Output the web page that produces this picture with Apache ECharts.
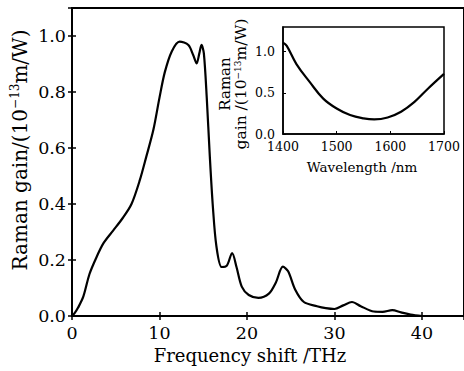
<!DOCTYPE html>
<html><head><meta charset="utf-8">
<script src="https://cdn.jsdelivr.net/npm/echarts@6/dist/echarts.min.js"></script>
<style>html,body{margin:0;padding:0;background:#fff}#c{width:464px;height:371px}</style>
</head><body><div id="c"></div>
<script>
// Main curve: frequency shift (THz) vs Raman gain (1e-13 m/W)
var freq = [0, 0.3, 0.7, 1.3, 2.0, 2.8, 3.6, 4.7, 5.8, 6.8, 7.75, 8.5, 9.3, 10.0, 10.6, 11.4, 12.3, 13.3, 13.85, 14.25, 14.55, 14.8, 15.07, 15.4, 15.75, 16.1, 16.5, 17.1, 17.7, 18.3, 18.8, 19.4, 20.2, 21.3, 22.5, 23.3, 24.1, 24.7, 25.5, 26.5, 28.0, 29.0, 30.0, 31.0, 32.0, 33.0, 34.5, 35.5, 36.6, 37.6, 38.7, 40.0];
var gain = [0.0, 0.01, 0.03, 0.07, 0.15, 0.21, 0.26, 0.305, 0.35, 0.40, 0.485, 0.57, 0.665, 0.78, 0.87, 0.945, 0.98, 0.968, 0.932, 0.902, 0.938, 0.968, 0.938, 0.78, 0.57, 0.39, 0.25, 0.175, 0.18, 0.225, 0.175, 0.105, 0.075, 0.065, 0.08, 0.12, 0.176, 0.16, 0.095, 0.05, 0.035, 0.028, 0.025, 0.038, 0.05, 0.035, 0.016, 0.015, 0.021, 0.013, 0.005, 0.0];
// Inset: wavelength (nm) vs Raman gain
var wavelength = [1400, 1407, 1425, 1450, 1475, 1500, 1525, 1550, 1570, 1595, 1620, 1645, 1670, 1700];
var insetGain = [1.11, 1.07, 0.85, 0.63, 0.43, 0.31, 0.23, 0.19, 0.177, 0.20, 0.27, 0.39, 0.55, 0.73];
var freqTicks = [0, 10, 20, 30, 40];
var gainTicks = ['0.0', '0.2', '0.4', '0.6', '0.8', '1.0'];
var wlTicks = [1400, 1500, 1600, 1700];
var insetGainTicks = ['0.0', '0.5', '1.0'];

var FONT = '"DejaVu Serif", "Liberation Serif", serif';
function pairs(a, b) { return a.map(function (v, i) { return [v, b[i]]; }); }
function fmt1(v) { return v.toFixed(1); }

var chart = echarts.init(document.getElementById('c'), null, { renderer: 'svg' });
var hidden = { show: false };
chart.setOption({
  backgroundColor: '#fff',
  animation: false,
  grid: [
    { left: 72, right: 0, top: 8, bottom: 55, show: true, borderColor: '#000', borderWidth: 2, backgroundColor: 'transparent' },
    { left: 283, top: 27, width: 161, height: 107, show: true, borderColor: '#000', borderWidth: 1.5, backgroundColor: '#fff' }
  ],
  xAxis: [
    { gridIndex: 0, type: 'value', min: 0, max: 44.8, interval: 10,
      axisLine: { lineStyle: { color: '#000', width: 2 } },
      axisTick: { inside: true, length: 4, lineStyle: { color: '#000', width: 1.5 } },
      axisLabel: { color: '#000', fontFamily: FONT, fontSize: 17.5, margin: 8, showMaxLabel: false,
        formatter: function (v) { return freqTicks.indexOf(v) >= 0 ? String(v) : ''; } },
      splitLine: hidden },
    { gridIndex: 0, type: 'value', position: 'top', min: 0, max: 44.8, interval: 10,
      axisLine: hidden, axisLabel: hidden, splitLine: hidden,
      axisTick: { inside: true, length: 4, lineStyle: { color: '#000', width: 1.5 } } },
    { gridIndex: 1, type: 'value', min: 1400, max: 1700, interval: 100,
      axisLine: { lineStyle: { color: '#000', width: 1.5 } },
      axisTick: { inside: true, length: 3, lineStyle: { color: '#000', width: 1 } },
      axisLabel: { color: '#000', fontFamily: FONT, fontSize: 12.5, margin: 7, lineHeight: 10,
        formatter: function (v) { return wlTicks.indexOf(v) >= 0 ? String(v) : ''; } },
      splitLine: hidden }
  ],
  yAxis: [
    { gridIndex: 0, type: 'value', min: 0, max: 1.1, interval: 0.2,
      axisLine: { show: true, lineStyle: { color: '#000', width: 2 } },
      axisTick: { show: true, inside: true, length: 4, lineStyle: { color: '#000', width: 1.5 } },
      axisLabel: { color: '#000', fontFamily: FONT, fontSize: 17.5, margin: 6, showMaxLabel: false,
        formatter: function (v) { var s = fmt1(v); return gainTicks.indexOf(s) >= 0 && v <= 1.0001 ? s : ''; } },
      splitLine: hidden },
    { gridIndex: 0, type: 'value', position: 'right', min: 0, max: 1.1, interval: 0.2,
      axisLine: hidden, axisLabel: hidden, splitLine: hidden,
      axisTick: { show: true, inside: true, length: 4, lineStyle: { color: '#000', width: 1.5 } } },
    { gridIndex: 1, type: 'value', min: 0, max: 1.3, interval: 0.5,
      axisLine: { show: true, lineStyle: { color: '#000', width: 1.5 } },
      axisTick: { show: true, inside: true, length: 3, lineStyle: { color: '#000', width: 1 } },
      axisLabel: { color: '#000', fontFamily: FONT, fontSize: 12.5, margin: 8, lineHeight: 8,
        showMaxLabel: false,
        formatter: function (v) { var s = fmt1(v); return insetGainTicks.indexOf(s) >= 0 && v <= 1.0001 ? s : ''; } },
      splitLine: hidden }
  ],
  series: [
    { type: 'line', xAxisIndex: 0, yAxisIndex: 0, data: pairs(freq, gain), smooth: 0.3,
      showSymbol: false, lineStyle: { color: '#000', width: 2.2 }, z: 5 },
    { type: 'line', xAxisIndex: 2, yAxisIndex: 2, data: pairs(wavelength, insetGain), smooth: 0.4,
      showSymbol: false, lineStyle: { color: '#000', width: 2.2 }, z: 5 }
  ],
  graphic: [
    { type: 'text', x: 250, y: 355, z: 10,
      style: { text: 'Frequency shift /THz', font: '18px ' + FONT, fill: '#000',
        textAlign: 'center', textVerticalAlign: 'middle', align: 'center', verticalAlign: 'middle' } },
    { type: 'text', x: 20, y: 150, rotation: Math.PI / 2, z: 10,
      style: { text: '{a|Raman gain/(10}{s|\u221213}{a|m/W)}', fill: '#000',
        textAlign: 'center', textVerticalAlign: 'middle', align: 'center', verticalAlign: 'middle',
        rich: { a: { fontFamily: FONT, fontSize: 20, lineHeight: 23, fill: '#000' },
                s: { fontFamily: FONT, fontSize: 12, lineHeight: 13, verticalAlign: 'top', fill: '#000' } } } },
    { type: 'text', x: 362, y: 167, z: 10,
      style: { text: 'Wavelength /nm', font: '13.5px ' + FONT, fill: '#000',
        textAlign: 'center', textVerticalAlign: 'middle', align: 'center', verticalAlign: 'middle' } },
    { type: 'text', x: 233, y: 84, rotation: Math.PI / 2, z: 10,
      style: { text: '{r|Raman}\n{a|gain /(10}{s|\u221213}{a|m/W)}', fill: '#000',
        textAlign: 'center', textVerticalAlign: 'middle', align: 'center', verticalAlign: 'middle',
        rich: { r: { fontFamily: FONT, fontSize: 15, lineHeight: 16, fill: '#000' },
                a: { fontFamily: FONT, fontSize: 15.5, lineHeight: 16, fill: '#000' },
                s: { fontFamily: FONT, fontSize: 9, lineHeight: 9, verticalAlign: 'top', fill: '#000' } } } }
  ]
});
</script></body></html>
